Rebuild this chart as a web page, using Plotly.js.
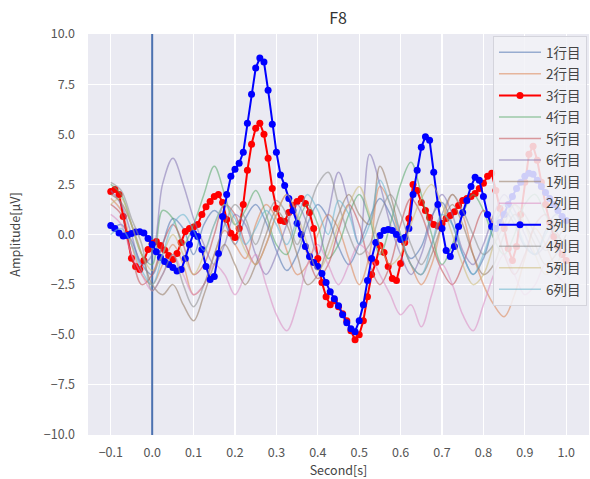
<!DOCTYPE html>
<html><head><meta charset="utf-8">
<script src="https://cdn.plot.ly/plotly-3.0.1.min.js"></script>
<style>body{margin:0;background:#fff}</style>
</head><body><div id="chart" style="width:590px;height:479px"></div>
<script>
// sample times
const tFine = []; for (let i = 0; i <= 110; i++) tFine.push(+(-0.1 + i * 0.01).toFixed(3));
const tCoarse = []; for (let i = 0; i <= 44; i++) tCoarse.push(+(-0.1 + i * 0.025).toFixed(3));

const names = ["1行目","2行目","3行目","4行目","5行目","6行目","1列目","2列目","3列目","4列目","5列目","6列目"];
const colors = ["#4C72B0","#DD8452","red","#55A868","#C44E52","#8172B3","#937860","#DA8BC3","blue","#8C8C8C","#CCB974","#64B5CD"];

const row1 = [0.2,0.5,-0.3,-1.5,-2.0,-0.5,0.8,0.3,-1.0,0.5,1.2,0.6,-0.5,0.8,1.5,0.6,-0.8,-1.8,-1.0,0.5,1.5,0.8,-0.6,-1.5,-0.5,0.8,1.8,1.0,-0.3,-1.2,-0.6,0.9,1.6,0.5,-1.0,-2.0,-1.2,0.4,1.2,0.5,-0.6,-1.0,0.2,1.0,0.6];
const row2 = [1.8,1.2,-0.5,-2.0,-2.5,-1.5,-0.5,-1.5,-3.0,-2.5,-1.0,0.2,-0.5,-1.2,0.5,1.5,0.8,-0.8,-2.0,-1.5,0.0,1.0,0.3,-1.2,-2.5,-1.0,2.4,1.5,-0.3,-1.5,-2.5,-1.5,0.5,2.0,1.0,-1.0,-2.5,-3.5,-4.1,-3.0,-1.2,0.3,-0.5,-1.5,-1.0];
const row3 = [2.15,2.24,2.0,0.9,0.0,-1.19,-1.6,-1.75,-1.3,-0.75,
  -0.45,-0.35,-0.55,-0.77,-1.05,-1.25,-0.95,-0.4,0.15,0.3,
  0.38,0.5,1.0,1.39,1.65,1.89,2.0,1.6,0.75,0.06,
  -0.15,0.3,1.5,3.2,4.5,5.3,5.55,5.0,3.8,2.3,
  1.3,0.7,0.65,1.1,1.45,1.65,1.8,1.55,1.1,0.3,
  -1.2,-2.4,-3.1,-3.5,-3.3,-3.6,-3.95,-4.3,-4.8,-5.25,
  -5.0,-4.3,-3.1,-2.0,-1.4,-0.55,-0.9,-1.6,-2.2,-2.3,
  -1.45,-0.4,0.8,2.5,2.2,1.6,1.2,0.85,0.5,0.42,
  0.55,0.8,0.95,1.14,1.45,1.7,1.8,1.9,2.05,2.3,
  2.55,2.9,3.05,2.2,1.3,0.3,-0.7,-1.3,-0.6,1.0,
  2.6,4.0,4.4,3.7,2.6,1.5,0.6,-0.1,-0.6,-1.0,-1.3];
const row4 = [2.5,2.0,0.5,-1.0,-1.5,1.2,0.8,-0.5,0.5,2.0,3.4,2.0,0.5,1.2,2.2,1.0,-0.5,-1.0,0.5,1.5,0.5,-1.2,-0.5,1.0,2.0,0.8,-1.0,0.5,2.5,3.6,2.0,0.0,-1.5,-0.5,1.0,2.0,1.2,-0.2,-1.0,0.0,1.5,2.0,1.0,0.0,-0.5];
const row5 = [1.5,1.0,-1.0,-2.5,-2.0,-0.5,0.5,-0.5,-2.0,-1.5,0.0,1.5,1.0,-0.5,-1.5,-0.5,1.0,2.0,0.8,-1.0,-2.2,-1.5,0.2,1.5,0.5,-1.5,-2.5,-1.5,0.5,1.8,1.0,-0.5,-1.8,-2.5,-1.5,0.0,1.2,0.5,-1.0,-2.0,-1.0,0.5,1.0,0.2,-0.8];
const row6 = [2.2,1.5,0.0,-1.5,-1.0,2.5,3.8,2.5,0.8,-0.5,-1.5,-0.5,1.0,0.5,-1.0,-2.0,-1.0,0.5,1.5,0.5,-1.0,1.0,3.1,1.5,-0.5,4.0,2.5,0.5,-1.0,-2.0,-1.0,0.8,2.0,1.0,-0.8,-1.5,-0.5,1.0,2.0,1.2,0.0,-1.0,-0.5,0.5,0.8];
const col1 = [2.0,1.6,0.5,-1.0,-2.5,-3.0,-2.5,-3.5,-4.3,-3.0,-1.5,-0.5,-1.5,-2.5,-1.5,0.0,1.2,0.5,-1.0,-2.5,-2.0,-0.5,1.0,2.0,1.0,0.5,3.4,2.0,0.0,-1.5,-2.0,-1.0,0.5,1.5,0.5,-1.0,-2.0,-1.5,0.0,1.0,0.5,-0.5,-1.5,-1.0,0.0];
const col2 = [1.0,0.5,-1.0,-2.0,-2.8,-2.0,-1.0,-2.0,-3.0,-2.5,-1.5,-2.0,-3.0,-2.0,-1.0,-2.5,-4.0,-4.8,-3.5,-1.5,-0.5,-1.5,-2.5,-1.5,-0.5,-1.0,-2.0,-3.0,-4.0,-3.5,-4.6,-3.0,-1.5,-2.5,-4.0,-4.8,-3.5,-2.0,-1.0,-2.0,-3.0,-2.5,-1.5,-2.0,-2.5];
const col3 = [0.45,0.3,0.08,-0.08,-0.05,0.05,0.12,0.14,0.08,-0.2,
  -0.5,-0.86,-1.15,-1.35,-1.5,-1.65,-1.82,-1.75,-1.2,-0.5,
  0.05,-0.1,-0.75,-1.6,-2.25,-2.1,-0.95,0.9,2.0,2.9,
  3.25,3.55,4.1,5.55,7.0,8.3,8.8,8.6,7.2,5.5,
  4.1,2.97,2.45,1.8,1.2,0.56,0.0,-0.6,-1.1,-1.4,
  -1.6,-1.95,-2.4,-2.85,-3.2,-3.55,-4.0,-4.4,-4.7,-4.85,
  -4.3,-3.5,-2.3,-1.2,-0.4,-0.05,0.2,0.25,0.2,0.0,
  -0.25,-0.15,0.3,2.0,3.2,4.35,4.88,4.7,3.1,1.5,
  0.3,-0.8,-1.1,-0.6,0.4,1.1,1.7,2.4,2.85,2.7,
  1.9,1.0,0.4,0.3,0.6,1.0,1.5,1.9,2.3,2.6,
  2.9,3.05,3.0,2.7,2.4,2.1,1.8,1.5,1.2,0.9,0.7];
const col4 = [2.6,2.2,0.8,-0.5,-2.8,-2.0,-1.0,-2.5,-3.6,-2.5,-1.0,0.5,1.5,0.8,-0.5,0.8,1.7,1.0,-0.5,1.0,2.5,3.1,1.5,0.0,-1.0,-0.5,1.0,2.0,1.0,-0.5,-1.5,-0.5,1.0,2.0,1.2,0.0,-1.0,-0.5,0.5,1.5,1.0,0.0,-0.8,-0.3,0.5];
const col5 = [1.5,1.8,0.5,-1.0,-1.8,-1.0,0.0,-1.0,-2.0,-1.0,0.5,1.5,0.5,-0.8,-1.5,-0.5,1.0,2.0,1.0,-0.5,-1.8,-1.0,0.5,1.5,2.4,1.0,-0.5,-1.5,-1.0,0.5,1.8,2.5,1.5,0.0,-1.5,-2.5,-2.0,-0.5,0.8,1.5,0.5,-1.0,-2.0,-1.5,-0.5];
const col6 = [0.0,0.3,-0.5,-1.8,-2.5,-1.0,0.5,1.0,0.2,-0.8,0.5,1.5,0.8,-0.5,0.3,1.2,0.5,-0.5,0.8,2.0,1.2,0.0,1.7,1.0,-0.5,0.5,2.7,1.5,0.0,-1.5,-2.0,-0.5,1.0,0.5,-1.0,-2.0,-1.0,0.5,1.5,0.8,-0.5,-1.0,0.0,0.8,0.3];

const series = [row1,row2,row3,row4,row5,row6,col1,col2,col3,col4,col5,col6];
const highlighted = [2, 8];

const xTicks = [-0.1,0.0,0.1,0.2,0.3,0.4,0.5,0.6,0.7,0.8,0.9,1.0];
const yTicks = [-10,-7.5,-5,-2.5,0,2.5,5,7.5,10];
const onsetX = [0, 0];
const onsetY = [-10, 10];

const FONT = "'Noto Sans CJK JP', 'Noto Sans', sans-serif";

const traces = [{x: onsetX, y: onsetY, type: 'scatter', mode: 'lines', showlegend: false, hoverinfo: 'skip',
  line: {color: '#4C72B0', width: 2}}];
series.forEach((vals, i) => {
  const hl = highlighted.includes(i);
  if (hl) {
    traces.push({x: tFine, y: vals, name: names[i], type: 'scatter', mode: 'lines+markers',
      line: {color: colors[i], width: 2}, marker: {color: colors[i], size: 7},
      legendgroup: 'g' + i});
  } else {
    traces.push({x: tCoarse, y: vals, name: names[i], type: 'scatter', mode: 'lines',
      line: {color: colors[i], width: 1.5, shape: 'spline', smoothing: 1}, opacity: 0.55,
      legendgroup: 'g' + i});
  }
});

const layout = {
  width: 590, height: 479,
  margin: {l: 88, r: 1, t: 34, b: 44},
  paper_bgcolor: '#ffffff', plot_bgcolor: '#EAEAF2',
  font: {family: FONT, color: '#444', size: 12},
  title: {text: 'F8', x: 0.573, xanchor: 'center', y: 0.962, yanchor: 'middle', font: {size: 16, color: '#333', family: FONT}},
  xaxis: {range: [-0.155, 1.055], tickvals: xTicks, tickformat: '.1f', showgrid: true, gridcolor: '#ffffff', gridwidth: 1.2,
    zeroline: false, showline: false, ticks: '', ticklabelstandoff: 8, tickfont: {size: 12.5, color: '#555'},
    title: {text: 'Second[s]', standoff: 5, font: {size: 12.5, color: '#444'}}},
  yaxis: {range: [-10, 10], tickvals: yTicks, tickformat: '.1f', showgrid: true, gridcolor: '#ffffff', gridwidth: 1.2,
    zeroline: false, showline: false, ticks: '', ticklabelstandoff: 12, tickfont: {size: 12.5, color: '#555'},
    title: {text: 'Amplitude[μV]', standoff: 20, font: {size: 12.5, color: '#444'}}},
  legend: {x: 0.996, xanchor: 'right', y: 0.995, yanchor: 'top', bgcolor: 'rgba(242,242,247,0.85)',
    bordercolor: '#d4d4dc', borderwidth: 1, font: {size: 13.5, color: '#444', family: FONT}, tracegroupgap: 1,
    itemwidth: 42},
  showlegend: true
};

Plotly.newPlot('chart', traces, layout, {displayModeBar: false, staticPlot: true});
</script>
</body></html>
